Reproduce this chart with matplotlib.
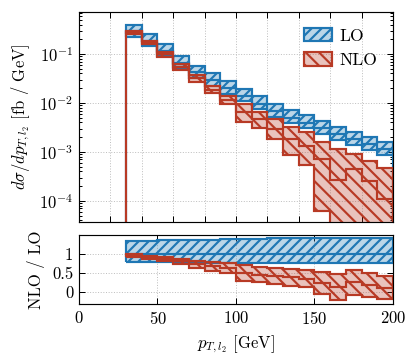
import numpy as np
import matplotlib.pyplot as plt
from matplotlib.patches import Patch

plt.rcParams['font.family'] = ['cmr10']
plt.rcParams['mathtext.fontset'] = 'cm'
plt.rcParams['axes.formatter.use_mathtext'] = True
plt.rcParams['font.size'] = 10
plt.rcParams['hatch.linewidth'] = 1.3

# bin edges in GeV
edges = np.arange(30, 201, 10)

# LO central value (fb/GeV) and scale band as ratio to LO
lo = np.array([0.288, 0.186, 0.116, 0.067, 0.0419, 0.0291, 0.0200, 0.0140, 0.00973,
               0.00689, 0.00502, 0.00397, 0.00304, 0.00229, 0.00181, 0.00143, 0.00113])
lo_rat_hi = np.array([1.34, 1.35, 1.36, 1.37, 1.38, 1.38, 1.39, 1.40, 1.40,
                      1.41, 1.41, 1.42, 1.42, 1.42, 1.43, 1.43, 1.43])
lo_rat_lo = np.array([0.78, 0.78, 0.78, 0.77, 0.77, 0.77, 0.77, 0.77, 0.77,
                      0.76, 0.76, 0.76, 0.76, 0.76, 0.76, 0.76, 0.76])

# NLO central value and band (fb/GeV)
nlo = np.array([0.28, 0.169, 0.098, 0.055, 0.032, 0.0188, 0.0115, 0.0066, 0.0046,
                0.0030, 0.0018, 0.0013, 0.00073, 0.00027, 0.00045, 0.00026, 0.00011])
nlo_hi = np.array([0.30, 0.182, 0.108, 0.063, 0.038, 0.0226, 0.0141, 0.0096, 0.0065,
                   0.0047, 0.0032, 0.0025, 0.00157, 0.00115, 0.00091, 0.00066, 0.00048])
nlo_lo = np.array([0.26, 0.157, 0.088, 0.048, 0.0266, 0.0156, 0.0093, 0.0040, 0.0031,
                   0.00185, 0.00088, 0.00055, 6.2e-5, -5e-4, -1.5e-4, -2e-4, -2.3e-4])

# NLO / LO ratio panel
nlo_rat = np.array([0.96, 0.92, 0.87, 0.81, 0.73, 0.68, 0.63, 0.51, 0.45,
                    0.42, 0.38, 0.35, 0.24, 0.12, 0.25, 0.18, 0.10])
nlo_rat_hi = np.array([1.00, 0.96, 0.93, 0.88, 0.82, 0.80, 0.76, 0.72, 0.66,
                       0.63, 0.61, 0.58, 0.52, 0.46, 0.57, 0.50, 0.41])
nlo_rat_lo = np.array([0.92, 0.88, 0.82, 0.74, 0.63, 0.56, 0.50, 0.30, 0.25,
                       0.22, 0.15, 0.12, -0.05, -0.22, -0.07, -0.14, -0.20])

blue = '#1f77b4'
red = '#b83a25'
blue_fill = (0.12, 0.47, 0.71, 0.3)
red_fill = (0.72, 0.23, 0.15, 0.3)
lw = 1.3
hatch_lo = '////'
hatch_nlo = '\\\\\\'

fig = plt.figure(figsize=(3.4, 3.025), dpi=120)
ax = fig.add_axes([0.1936, 0.3884, 0.7696, 0.5785])
axr = fig.add_axes([0.1936, 0.1625, 0.7696, 0.190])

# top panel
ax.stairs(lo * lo_rat_hi, edges, baseline=lo * lo_rat_lo, fill=True,
          facecolor=blue_fill, edgecolor=blue, hatch=hatch_lo, lw=lw)
ax.stairs(lo, edges, color=blue, lw=lw)
ax.stairs(nlo_hi, edges, baseline=nlo_lo, fill=True,
          facecolor=red_fill, edgecolor=red, hatch=hatch_nlo, lw=lw)
ax.stairs(nlo, edges, color=red, lw=lw)

ax.set_yscale('log')
ax.set_xlim(0, 200)
ax.set_ylim(3.7e-5, 0.72)
ax.set_xticks(np.arange(0, 201, 20))
ax.tick_params(labelbottom=False)
ax.set_ylabel(r'$d\sigma/dp_{T,l_2}$ [fb / GeV]')
ax.grid(True, which='major', ls=':', color='#c0c0c0', lw=0.6)

handles = [Patch(facecolor=blue_fill, edgecolor=blue, hatch=hatch_lo, lw=lw, label='LO'),
           Patch(facecolor=red_fill, edgecolor=red, hatch=hatch_nlo, lw=lw, label='NLO')]
ax.legend(handles=handles, loc='upper right', frameon=False, handlelength=1.6,
          handleheight=0.8, handletextpad=0.4, fontsize=10.5, borderaxespad=0.5)

# ratio panel
axr.stairs(lo_rat_hi, edges, baseline=lo_rat_lo, fill=True,
           facecolor=blue_fill, edgecolor=blue, hatch=hatch_lo, lw=lw)
axr.stairs(lo / lo, edges, baseline=None, color=blue, lw=lw)
axr.stairs(nlo_rat_hi, edges, baseline=nlo_rat_lo, fill=True,
           facecolor=red_fill, edgecolor=red, hatch=hatch_nlo, lw=lw)
axr.stairs(nlo_rat, edges, baseline=None, color=red, lw=lw)

axr.set_xlim(0, 200)
axr.set_ylim(-0.32, 1.5)
axr.set_xticks([0, 50, 100, 150, 200])
axr.set_yticks([0, 0.5, 1])
axr.set_yticklabels(['0', '0.5', '1'])
axr.set_ylabel('NLO / LO')
axr.set_xlabel(r'$p_{T,l_2}$ [GeV]')
axr.grid(True, ls=':', color='#c0c0c0', lw=0.6)

for a in (ax, axr):
    a.tick_params(which='both', direction='in', top=True, right=True, width=0.6)
    a.tick_params(which='major', length=3.5)
    a.tick_params(which='minor', length=2)
    for s in a.spines.values():
        s.set_linewidth(0.7)
    a.set_axisbelow(True)

fig.savefig('out.png', dpi=120)
